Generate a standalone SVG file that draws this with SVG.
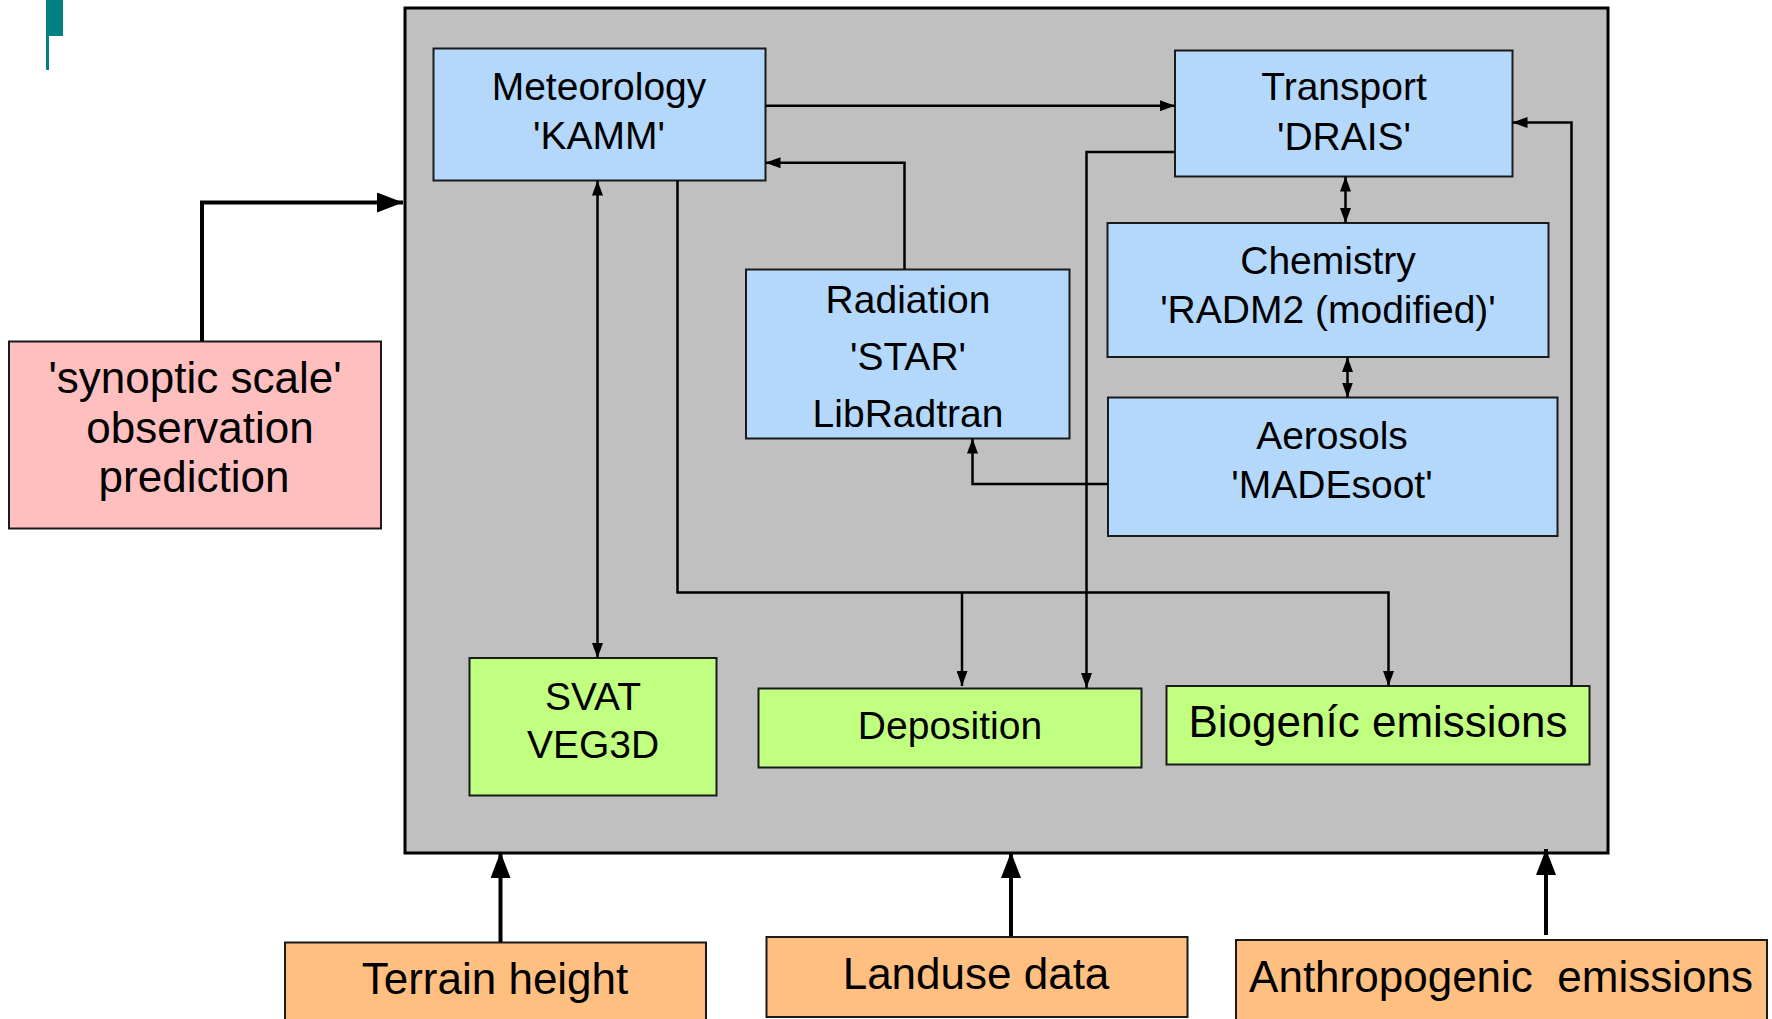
<svg xmlns="http://www.w3.org/2000/svg" width="1772" height="1019" viewBox="0 0 1772 1019">
<defs>
<style>
text{font-family:"Liberation Sans",Arial,sans-serif;fill:#000;text-anchor:middle}
.t39{font-size:39px}
.t44{font-size:44px}
.blue{fill:#b3d8fc;stroke:#1a1a1a;stroke-width:2}
.green{fill:#c0ff80;stroke:#1a1a1a;stroke-width:2}
.pink{fill:#ffbfbf;stroke:#1a1a1a;stroke-width:2}
.orange{fill:#ffbf80;stroke:#1a1a1a;stroke-width:2}
.ln{fill:none;stroke:#000;stroke-width:2.5}
.thick{fill:none;stroke:#000;stroke-width:4}
</style>
<marker id="a" viewBox="0 0 15 11" refX="15" refY="5.5" markerWidth="15" markerHeight="11" markerUnits="userSpaceOnUse" orient="auto-start-reverse">
<path d="M0,0 L15,5.5 L0,11 Z" fill="#000"/>
</marker>
<marker id="big" viewBox="0 0 26 20" refX="26" refY="10" markerWidth="26" markerHeight="20" markerUnits="userSpaceOnUse" orient="auto">
<path d="M0,0 L26,10 L0,20 Z" fill="#000"/>
</marker>
</defs>
<rect width="1772" height="1019" fill="#fff"/>
<g id="decoration">
<rect x="46" y="0" width="17" height="36" fill="#008080"/>
<rect x="46" y="36" width="3" height="34" fill="#008080"/>
</g>
<g id="model">
<rect x="405" y="8" width="1203" height="845" fill="#c0c0c0" stroke="#000" stroke-width="3"/>
</g>
<g id="meteorology">
<rect class="blue" x="433.5" y="48.5" width="332" height="132"/>
<text class="t39" x="599" y="100">Meteorology</text>
<text class="t39" x="599" y="149">'KAMM'</text>
</g>
<g id="transport">
<rect class="blue" x="1175" y="50.5" width="337.5" height="126"/>
<text class="t39" x="1344" y="100">Transport</text>
<text class="t39" x="1344" y="149.5">'DRAIS'</text>
</g>
<g id="chemistry">
<rect class="blue" x="1107.5" y="223" width="441" height="134"/>
<text class="t39" x="1328" y="273.5">Chemistry</text>
<text class="t39" x="1328" y="323">'RADM2 (modified)'</text>
</g>
<g id="radiation">
<rect class="blue" x="746" y="269.5" width="323.5" height="169"/>
<text class="t39" x="908" y="313">Radiation</text>
<text class="t39" x="908" y="370">'STAR'</text>
<text class="t39" x="908" y="426.5">LibRadtran</text>
</g>
<g id="aerosols">
<rect class="blue" x="1108" y="397.5" width="449.5" height="138.5"/>
<text class="t39" x="1332" y="448.5">Aerosols</text>
<text class="t39" x="1332" y="497.5">'MADEsoot'</text>
</g>
<g id="svat">
<rect class="green" x="469.5" y="658" width="247" height="137.5"/>
<text class="t39" x="593" y="709.5">SVAT</text>
<text class="t39" x="593" y="758">VEG3D</text>
</g>
<g id="deposition">
<rect class="green" x="758.5" y="688.5" width="383" height="79"/>
<text class="t39" x="950" y="738.5">Deposition</text>
</g>
<g id="biogenic">
<rect class="green" x="1166.5" y="686" width="423" height="78.5"/>
<text class="t44" x="1378" y="737">Biogeníc emissions</text>
</g>
<g id="synoptic">
<rect class="pink" x="9" y="341.5" width="372" height="187"/>
<text class="t44" x="195" y="392.5">'synoptic scale'</text>
<text class="t44" x="200" y="442.5">observation</text>
<text class="t44" x="194" y="491.5">prediction</text>
</g>
<g id="terrain">
<rect class="orange" x="285" y="942.5" width="421" height="90"/>
<text class="t44" x="495" y="993.5">Terrain height</text>
</g>
<g id="landuse">
<rect class="orange" x="766.5" y="937" width="421" height="80"/>
<text class="t44" x="976" y="988.5">Landuse data</text>
</g>
<g id="anthropogenic">
<rect class="orange" x="1236" y="940" width="531" height="90"/>
<text class="t44" x="1501" y="992" xml:space="preserve">Anthropogenic  emissions</text>
</g>
<g id="connectors">
<path class="thick" d="M202,341 V202.5 H403" marker-end="url(#big)"/>
<path class="thick" d="M500.5,942 V852" marker-end="url(#big)"/>
<path class="thick" d="M1011,936 V852" marker-end="url(#big)"/>
<path class="thick" d="M1546,935 V849" marker-end="url(#big)"/>
<path class="ln" d="M765.5,105.7 H1175" marker-end="url(#a)"/>
<path class="ln" d="M904.5,269.5 V162.7 H765.5" marker-end="url(#a)"/>
<path class="ln" d="M597.5,180.5 V658" marker-start="url(#a)" marker-end="url(#a)"/>
<path class="ln" d="M677.5,180.5 V592.5 H1388.5 V686" marker-end="url(#a)"/>
<path class="ln" d="M962,592.5 V686" marker-end="url(#a)"/>
<path class="ln" d="M1175,152 H1086.5 V688" marker-end="url(#a)"/>
<path class="ln" d="M1571.5,686 V122.5 H1512.5" marker-end="url(#a)"/>
<path class="ln" d="M1108,484 H972.5 V438.5" marker-end="url(#a)"/>
<path class="ln" d="M1345.5,176.5 V223" marker-start="url(#a)" marker-end="url(#a)"/>
<path class="ln" d="M1347.5,357 V397.5" marker-start="url(#a)" marker-end="url(#a)"/>
</g>
</svg>
